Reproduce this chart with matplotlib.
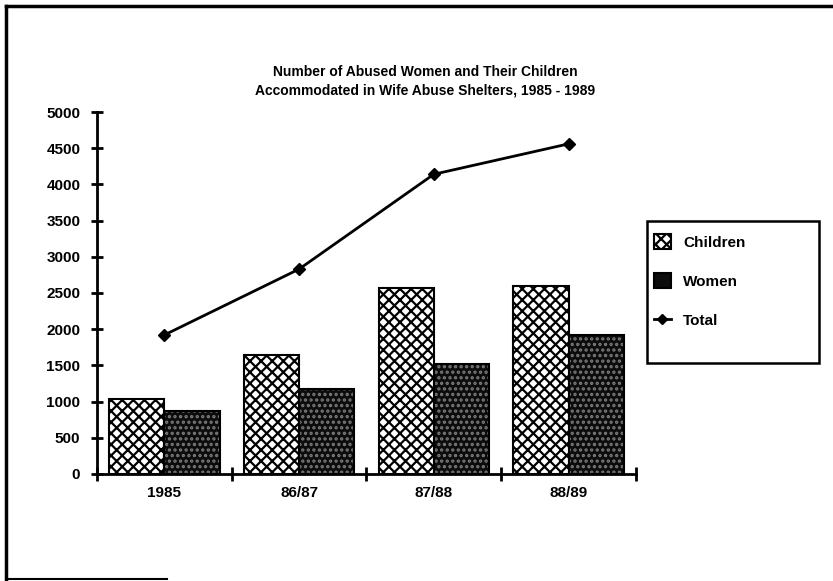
import numpy as np
import matplotlib.pyplot as plt
from matplotlib.patches import Patch, Rectangle
from matplotlib.lines import Line2D

years = ['1985', '86/87', '87/88', '88/89']
children = [1030, 1640, 2570, 2590]
women = [870, 1170, 1520, 1920]
total = [1920, 2830, 4140, 4560]

plt.rcParams['font.family'] = ['Liberation Sans', 'DejaVu Sans']
plt.rcParams['hatch.linewidth'] = 1.6

fig = plt.figure(figsize=(8.33, 5.81), dpi=100)
ax = fig.add_axes([0.1164, 0.1842, 0.647, 0.623])

x = np.arange(len(years))
w = 0.41

# children: white with cross hatch
ax.bar(x - w / 2, children, w, color='white', edgecolor='black', hatch='xxx', linewidth=1.5, zorder=2)
# women: dark stipple, then black outline on top
ax.bar(x + w / 2, women, w, color='#0c0c0c', edgecolor='#7a7a7a', hatch='...', linewidth=0, zorder=2)
ax.bar(x + w / 2, women, w, fill=False, edgecolor='black', linewidth=1.5, zorder=3)

ax.plot(x, total, color='black', linewidth=2, marker='D', markersize=6, zorder=4)

ax.set_xlim(-0.5, 3.5)
ax.set_ylim(0, 5000)
ax.set_yticks(np.arange(0, 5001, 500))
ax.set_xticks(x)
ax.set_xticklabels(years)
ax.set_xticks(np.arange(-0.5, 3.6, 1), minor=True)

for s in ['top', 'right']:
    ax.spines[s].set_visible(False)
for s in ['left', 'bottom']:
    ax.spines[s].set_linewidth(2)

ax.tick_params(axis='y', direction='inout', length=8, width=2, labelsize=11, pad=8)
ax.tick_params(axis='x', which='major', length=0, labelsize=11, pad=9)
ax.tick_params(axis='x', which='minor', direction='inout', length=10, width=2)
for lbl in ax.get_xticklabels() + ax.get_yticklabels():
    lbl.set_fontweight('bold')

fig.text(0.51, 0.833, 'Number of Abused Women and Their Children\nAccommodated in Wife Abuse Shelters, 1985 - 1989',
         ha='center', va='bottom', fontsize=10, fontweight='bold', linespacing=1.35)

# legend box drawn separately (taller than its entries)
fig.add_artist(Rectangle((0.777, 0.375), 0.206, 0.245, transform=fig.transFigure,
                         fill=False, edgecolor='black', linewidth=1.8))
handles = [
    Patch(facecolor='white', edgecolor='black', hatch='xxx', linewidth=1.5),
    Patch(facecolor='#0c0c0c', edgecolor='black', linewidth=1.5),
    Line2D([0], [0], color='black', linewidth=2, marker='D', markersize=5),
]
leg = fig.legend(handles, ['Children', 'Women', 'Total'], loc='upper left',
                 bbox_to_anchor=(0.785, 0.597), frameon=False,
                 labelspacing=1.55, borderpad=0, handlelength=1.1, handleheight=1.1,
                 handletextpad=0.8, borderaxespad=0, prop={'weight': 'bold', 'size': 11})

# page border of the scanned figure
fig.add_artist(Line2D([0.007, 1.0], [0.99, 0.99], color='black', linewidth=2.5, transform=fig.transFigure))
fig.add_artist(Line2D([0.007, 0.007], [0.003, 0.99], color='black', linewidth=2.5, transform=fig.transFigure))
fig.add_artist(Line2D([0.007, 0.2], [0.004, 0.004], color='black', linewidth=1.5, transform=fig.transFigure))

fig.savefig('out.png', dpi=100)
